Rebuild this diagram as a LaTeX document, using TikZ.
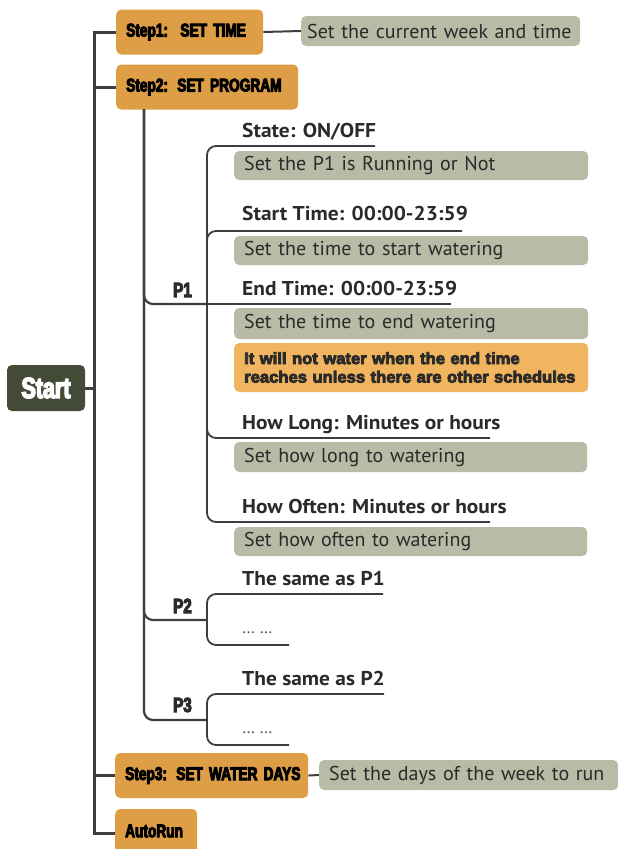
\documentclass[tikz,border=0pt]{standalone}
\usepackage{fontspec}
\setmainfont{PT Sans}
\newfontfamily\heavy[FakeStretch=0.74,FakeBold=5]{Liberation Sans}
\newfontfamily\heavywide[FakeStretch=1.02,FakeBold=5]{Liberation Sans}
\newfontfamily\lblfont[FakeStretch=1.07]{PT Sans}
\definecolor{stepc}{HTML}{DE9E45}
\definecolor{greyc}{HTML}{B8BBA5}
\definecolor{notec}{HTML}{F0B55E}
\definecolor{startc}{HTML}{434A35}
\definecolor{linec}{HTML}{3E3E3E}
\definecolor{txtc}{HTML}{2A2A2A}
\newcommand{\lft}[1]{\makebox[\linewidth][l]{#1}}
\tikzset{
  stepbox/.style={draw=none,fill=stepc,rounded corners=5pt,anchor=west,minimum height=45pt,inner xsep=10pt,inner ysep=0pt,align=left,font=\heavy\bfseries\fontsize{18.5}{20}\selectfont,text=black},
  greybox/.style={fill=greyc,rounded corners=5pt,anchor=west,minimum height=30pt,inner xsep=10pt,inner ysep=0pt,align=left,font=\fontsize{20}{22}\selectfont,text=txtc},
  lbl/.style={anchor=base west,inner sep=0pt,font=\lblfont\bfseries\fontsize{20}{22}\selectfont,text=txtc},
  plbl/.style={anchor=base west,inner sep=0pt,font=\heavy\bfseries\fontsize{20.5}{22}\selectfont,text=txtc},
  dots/.style={anchor=base west,inner sep=0pt,font=\fontsize{17}{19}\selectfont,text=txtc!80},
  trunk/.style={draw=linec,line width=3pt},
  mid/.style={draw=linec,line width=2.2pt,rounded corners=9pt},
  thin/.style={draw=linec,line width=1.8pt,rounded corners=9pt},
}
\begin{document}
\begin{tikzpicture}[x=1pt,y=-1pt]
\useasboundingbox (0,0) rectangle (618,849);
% main nodes
\node[fill=startc,rounded corners=5pt,minimum width=78pt,minimum height=46pt,inner sep=0pt,text=white,font=\heavy\bfseries\fontsize{29}{31}\selectfont] (st) at (46,388) {Start};
\node[stepbox,text width=127pt] (s1) at (116,32) {\lft{Step1:\ \ SET TIME}};
\node[stepbox,text width=162pt] (s2) at (116,87) {\lft{Step2: SET PROGRAM}};
\node[stepbox,text width=173pt] (s3) at (115,775.5) {\lft{Step3: SET WATER DAYS}};
\node[stepbox,text width=62pt,minimum height=44pt] (ar) at (115,831) {\lft{AutoRun}};
\node[greybox,inner xsep=6pt,text width=267pt] (d1) at (301,31) {Set the current week and time};
\node[greybox,text width=279pt] (d3) at (319,775) {Set the days of the week to run};
% trunk
\coordinate (tb) at (94,833);
\draw[trunk] (s1.west) -| (tb) -- (tb -| ar.west);
\draw[trunk] (s2.west) -- (s2.west -| tb);
\draw[trunk] (s3.west) -- (s3.west -| tb);
\draw[trunk] (st.east) -- (st.east -| tb);
\draw[draw=linec,line width=2pt] (s1.east) -- (d1.west);
\draw[draw=linec,line width=2pt] (s3.east) -- (d3.west);
% P1
\coordinate (p1) at (207,304);
\coordinate (p2) at (207,620);
\coordinate (p3) at (207,720);
\coordinate (sx) at (144,109);
\draw[mid] (sx) |- (p1);
\draw[mid] (sx) |- (p2);
\draw[mid] (sx) |- (p3);
\node[plbl] (P1) at (173,297) {P1};
\node[plbl] (P2) at (173,613) {P2};
\node[plbl] (P3) at (173,712) {P3};
% P1 items
\coordinate (e1) at (375,146);
\coordinate (e2) at (462,231);
\coordinate (e3) at (451,304);
\coordinate (e4) at (490,438);
\coordinate (e5) at (490,522);
\draw[thin] (p1) |- (e1);
\draw[thin] (p1) |- (e2);
\draw[thin] (p1) -- (e3);
\draw[thin] (p1) |- (e4);
\draw[thin] (p1) |- (e5);
\node[lbl] (l1) at (242,137) {State: ON/OFF};
\node[lbl] (l2) at (242,220) {Start Time: 00:00-23:59};
\node[lbl] (l3) at (242,295) {End Time: 00:00-23:59};
\node[lbl] (l4) at (242,429) {How Long: Minutes or hours};
\node[lbl] (l5) at (242,513) {How Often: Minutes or hours};
\node[greybox,text width=334pt,minimum height=29pt] (g1) at (234,165.5) {Set the P1 is Running or Not};
\node[greybox,text width=334pt,minimum height=29pt] (g2) at (234,250.5) {Set the time to start watering};
\node[greybox,text width=334pt,minimum height=31pt] (g3) at (234,323.5) {Set the time to end watering};
\node[fill=notec,rounded corners=5pt,anchor=west,minimum height=49pt,inner xsep=10pt,inner ysep=0pt,text width=334pt,align=left,font=\heavywide\bfseries\fontsize{16.3}{18.5}\selectfont,text=txtc] (nt) at (234,367.5) {\lft{It will not water when the end time}\\\lft{reaches unless there are other schedules}};
\node[greybox,text width=333pt] (g4) at (234,457) {Set how long to watering};
\node[greybox,text width=333pt,minimum height=29pt] (g5) at (234,541.5) {Set how often to watering};
% P2 / P3
\coordinate (f1) at (383,594);
\coordinate (f2) at (289,645);
\coordinate (f3) at (384,694);
\coordinate (f4) at (289,745);
\draw[thin] (p2) |- (f1);
\draw[thin] (p2) |- (f2);
\draw[thin] (p3) |- (f3);
\draw[thin] (p3) |- (f4);
\node[lbl] (m1) at (242,585) {The same as P1};
\node[lbl] (m2) at (242,685) {The same as P2};
\node[dots] (k1) at (242,633) {\dots\ \dots};
\node[dots] (k2) at (242,733) {\dots\ \dots};
\end{tikzpicture}
\end{document}
